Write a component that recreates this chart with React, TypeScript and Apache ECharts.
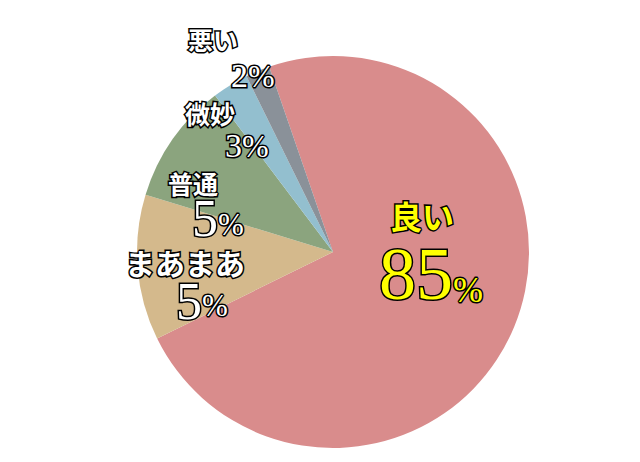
import React, { useEffect, useRef } from 'react';
import * as echarts from 'echarts';

const categories = ['良い', 'まあまあ', '普通', '微妙', '悪い'];
const sliceValues = [73, 12, 10, 3, 2];
const percentLabels = ['85', '5', '5', '3', '2'];
const colors = ['#D98C8C', '#D4B98C', '#8BA47E', '#93BFCF', '#8A9199'];

const namePos = [[422, 215], [185, 262], [193, 183], [210, 113], [213, 39]];
// x: joint between digits and %; digitY / signY: top of the text boxes
const jointX = [453, 202, 218, 242, 248];
const digitY = [237, 275, 192, 128, 58];
const signY = [272, 290, 209, 130, 60];
const nameSize = [32, 30, 25, 25, 25];
const digitSize = [74, 52, 52, 34, 34];
const signSize = [36, 31, 31, 32, 32];
const textFill = ['#FFFF00', '#FFFFFF', '#FFFFFF', '#FFFFFF', '#FFFFFF'];

const JP = 'Noto Sans CJK JP';
const SERIF = 'Liberation Serif';

export default function App() {
  const ref = useRef<HTMLDivElement>(null);
  useEffect(() => {
    if (!ref.current) return;
    const chart = echarts.init(ref.current, null, { renderer: 'svg' });
    const graphics: any[] = [];
    categories.forEach((name, i) => {
      graphics.push({
        type: 'text',
        x: namePos[i][0],
        y: namePos[i][1],
        silent: true,
        z: 100,
        style: {
          text: name,
          fill: textFill[i],
          stroke: '#000',
          lineWidth: 3,
          fontFamily: JP,
          fontWeight: 'bold',
          fontSize: nameSize[i],
          align: 'center',
          verticalAlign: 'middle',
        },
      });
      graphics.push({
        type: 'text',
        x: jointX[i],
        y: digitY[i],
        silent: true,
        z: 100,
        style: {
          text: percentLabels[i],
          fill: textFill[i],
          stroke: '#000',
          lineWidth: 3,
          fontFamily: SERIF,
          fontSize: digitSize[i],
          align: 'right',
          verticalAlign: 'top',
        },
      });
      graphics.push({
        type: 'text',
        x: jointX[i],
        y: signY[i],
        silent: true,
        z: 100,
        style: {
          text: '%',
          fill: textFill[i],
          stroke: '#000',
          lineWidth: 3,
          fontFamily: SERIF,
          fontSize: signSize[i],
          align: 'left',
          verticalAlign: 'top',
        },
      });
    });
    chart.setOption({
      animation: false,
      backgroundColor: '#FFFFFF',
      series: [
        {
          type: 'pie',
          center: [333, 252],
          radius: 196,
          startAngle: 109,
          clockwise: true,
          silent: true,
          label: { show: false },
          labelLine: { show: false },
          emphasis: { disabled: true },
          data: categories.map((name, i) => ({
            name,
            value: sliceValues[i],
            itemStyle: { color: colors[i] },
          })),
        },
      ],
      graphic: graphics,
    });
    return () => chart.dispose();
  }, []);
  return (
    <div
      ref={ref}
      style={{ position: 'fixed', left: 0, top: 0, width: 640, height: 462 }}
    />
  );
}
